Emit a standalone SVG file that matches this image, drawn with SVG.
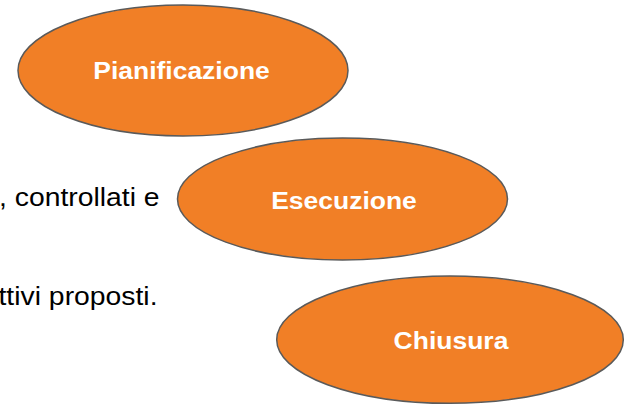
<svg xmlns="http://www.w3.org/2000/svg" width="631" height="406" viewBox="0 0 631 406">
<style>
.node ellipse{fill:#F17F26;stroke:#5A5A5A;stroke-width:1.5}
.label{font-family:"Liberation Sans",Arial,sans-serif;font-weight:bold;font-size:24.3px;fill:#FFFFFF;text-anchor:middle}
.body{font-family:"Liberation Sans",Arial,sans-serif;font-size:26px;fill:#000000}
</style>
<rect width="631" height="406" fill="#FFFFFF"/>
<g id="paragraph">
<text class="body" transform="translate(-1 206) scale(1.09 1)">, controllati e</text>
<text class="body" transform="translate(-1.5 305) scale(1.09 1)">ttivi proposti.</text>
</g>
<g id="connectors"></g>
<g id="pianificazione" class="node">
<ellipse cx="183" cy="70.5" rx="165" ry="65.5"/>
<text class="label" transform="translate(181.5 79) scale(1.09 1)">Pianificazione</text>
</g>
<g id="esecuzione" class="node">
<ellipse cx="342.5" cy="199" rx="165" ry="61"/>
<text class="label" transform="translate(344 209) scale(1.09 1)">Esecuzione</text>
</g>
<g id="chiusura" class="node">
<ellipse cx="450" cy="339.7" rx="173.3" ry="63.6"/>
<text class="label" transform="translate(451 349) scale(1.09 1)">Chiusura</text>
</g>
</svg>
